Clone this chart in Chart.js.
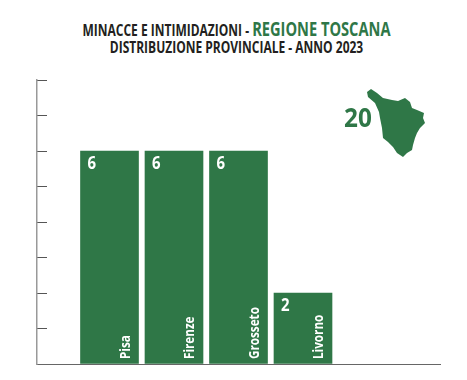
<!DOCTYPE html>
<html>
<head>
<meta charset="utf-8">
<script src="https://cdn.jsdelivr.net/npm/chart.js@4"></script>
<style>
    html, body { margin: 0; padding: 0; background: #fff; }
    #wrap { position: relative; width: 467px; height: 380px; overflow: hidden; }
    #chartMinacce { position: absolute; left: 0; top: 0; }
    .title { position: absolute; left: 3px; width: 467px; text-align: center; white-space: nowrap;
             font-family: "Open Sans", sans-serif; font-weight: 700; color: #231f20; transform: scaleX(0.75); }
    #line1 { top: 18px; font-size: 16px; line-height: 22px; }
    #line1 span { color: #2f7747; font-size: 19.5px; }
    #line2 { top: 37px; font-size: 16px; line-height: 20px; }
</style>
</head>
<body>
<div id="wrap">
    <div class="title" id="line1">MINACCE E INTIMIDAZIONI - <span>REGIONE TOSCANA</span></div>
    <div class="title" id="line2">DISTRIBUZIONE PROVINCIALE - ANNO 2023</div>
    <canvas id="chartMinacce" width="467" height="380"></canvas>
</div>
<script>
"use strict";

const provinces = ["Pisa", "Firenze", "Grosseto", "Livorno"];
const cases = [6, 6, 6, 2];
const regionTotal = ["20"];
const green = "#2f7747";

// outline of Tuscany, only decoration next to the total
const mapOutline = "M367 92L371 89L377 93L383 98L392 100L398 101L405 98L410 102L412 108L417 110L424 113L423 118L425 123L420 128L417 133L415 138L413 145L412 150L407 153L403 157L397 153L393 147L388 142L383 138L382 128L380 118L379 112L375 103L368 97Z";

//--------------------------------labels and map---------------------------------
const extras = {
    id: 'extras',
    afterDatasetsDraw(chart) {
        const ctx = chart.ctx;
        const bars = chart.getDatasetMeta(0).data;
        ctx.save();
        ctx.fillStyle = '#fff';
        ctx.textAlign = 'left';
        ctx.textBaseline = 'middle';
        bars.forEach((bar, i) => {
            const left = bar.x - bar.width / 2;
            const right = bar.x + bar.width / 2;

            ctx.save();
            ctx.translate(left + 7, bar.y + 13);
            ctx.scale(0.88, 1);
            ctx.font = '700 17px "Open Sans", sans-serif';
            ctx.fillText(cases[i], 0, 0);
            ctx.restore();

            ctx.save();
            ctx.translate(right - 13, chart.scales.y.bottom - 5);
            ctx.rotate(-Math.PI / 2);
            ctx.scale(0.78, 1);
            ctx.font = '700 15px "Open Sans", sans-serif';
            ctx.fillText(provinces[i], 0, 0);
            ctx.restore();
        });

        ctx.fillStyle = green;
        ctx.fill(new Path2D(mapOutline));
        ctx.translate(344, 119);
        ctx.scale(0.9, 1);
        ctx.font = '700 27px "Open Sans", sans-serif';
        ctx.fillText(regionTotal[0], 0, 0);
        ctx.restore();
    }
};

//--------------------------------bar chart---------------------------------
const minacce = document.getElementById("chartMinacce").getContext('2d');
var chartMinacce = new Chart(minacce, {
    type: 'bar',
    data: {
        labels: provinces,
        datasets: [{
            backgroundColor: green,
            barThickness: 58,
            data: cases.map((v, i) => ({ x: i, y: v }))
        }]
    },
    options: {
        responsive: false,
        animation: false,
        events: [],
        layout: { padding: { left: 37, right: 27, top: 80, bottom: 16 } },
        plugins: { legend: { display: false }, tooltip: { enabled: false } },
        scales: {
            x: {
                type: 'linear',
                offset: false,
                min: -1.124,
                max: 5.124,
                afterFit: s => { s.height = 0; },
                grid: { display: false, offset: false },
                border: { color: '#666', width: 1 },
                ticks: { display: false }
            },
            y: {
                min: 0,
                max: 8,
                afterFit: s => { s.width = 0; },
                grid: { drawOnChartArea: false, tickLength: -10, tickColor: '#555', tickWidth: 1 },
                border: { color: '#999', width: 1.5 },
                ticks: { display: false, stepSize: 1 }
            }
        }
    },
    plugins: [extras]
});
</script>
</body>
</html>
